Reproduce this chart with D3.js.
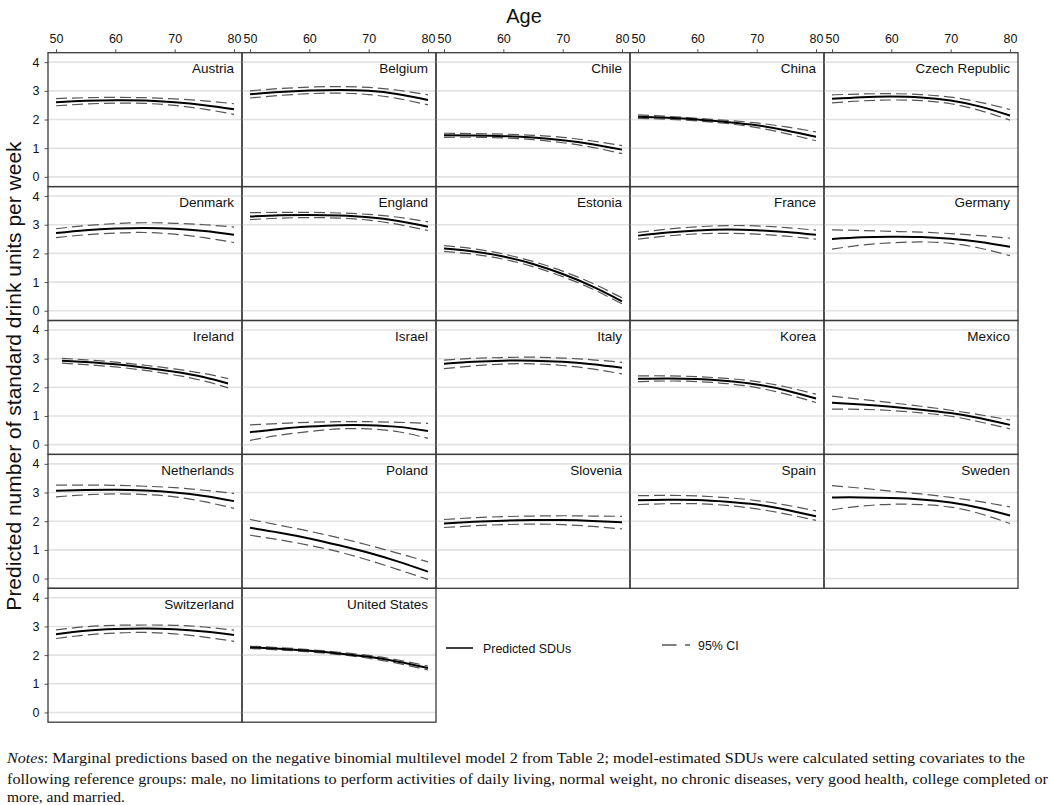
<!DOCTYPE html>
<html>
<head>
<meta charset="utf-8">
<script src="https://cdn.jsdelivr.net/npm/d3@7"></script>
<style>
  html, body { margin: 0; padding: 0; background: #fff; }
  svg { display: block; }
</style>
</head>
<body>
<svg id="chart" width="1050" height="805"></svg>
<script>
// ---------------- DATA ----------------
const countries = ["Austria","Belgium","Chile","China","Czech Republic",
  "Denmark","England","Estonia","France","Germany",
  "Ireland","Israel","Italy","Korea","Mexico",
  "Netherlands","Poland","Slovenia","Spain","Sweden",
  "Switzerland","United States"];

const ages = [50, 55, 60, 65, 70, 75, 80];
const irelandAges = [51, 55, 60, 65, 70, 75, 79];
const countryAges = { "Ireland": irelandAges };

const xTicks = [50, 60, 70, 80];
const yTicks = [0, 1, 2, 3, 4];

const predicted = [
  [2.60, 2.65, 2.67, 2.66, 2.60, 2.50, 2.36], // Austria
  [2.88, 2.96, 3.01, 3.03, 3.00, 2.88, 2.68], // Belgium
  [1.45, 1.44, 1.42, 1.37, 1.28, 1.14, 0.95], // Chile
  [2.10, 2.06, 2.00, 1.91, 1.80, 1.62, 1.40], // China
  [2.72, 2.78, 2.80, 2.77, 2.66, 2.45, 2.14], // Czech Republic
  [2.71, 2.81, 2.87, 2.89, 2.86, 2.78, 2.65], // Denmark
  [3.29, 3.33, 3.34, 3.32, 3.26, 3.13, 2.93], // England
  [2.17, 2.07, 1.89, 1.63, 1.28, 0.85, 0.33], // Estonia
  [2.62, 2.73, 2.80, 2.83, 2.81, 2.75, 2.65], // France
  [2.50, 2.56, 2.58, 2.57, 2.51, 2.40, 2.23], // Germany
  [2.93, 2.88, 2.80, 2.68, 2.54, 2.35, 2.13], // Ireland
  [0.43, 0.55, 0.63, 0.68, 0.68, 0.62, 0.48], // Israel
  [2.82, 2.89, 2.93, 2.93, 2.89, 2.80, 2.68], // Italy
  [2.30, 2.31, 2.29, 2.22, 2.10, 1.89, 1.61], // Korea
  [1.46, 1.40, 1.32, 1.22, 1.10, 0.92, 0.69], // Mexico
  [3.06, 3.09, 3.10, 3.07, 3.00, 2.88, 2.70], // Netherlands
  [1.77, 1.60, 1.40, 1.16, 0.90, 0.59, 0.24], // Poland
  [1.92, 1.98, 2.02, 2.04, 2.04, 2.01, 1.96], // Slovenia
  [2.73, 2.75, 2.74, 2.68, 2.58, 2.40, 2.17], // Spain
  [2.83, 2.83, 2.81, 2.76, 2.65, 2.46, 2.20], // Sweden
  [2.73, 2.85, 2.91, 2.93, 2.90, 2.82, 2.70], // Switzerland
  [2.27, 2.22, 2.15, 2.06, 1.94, 1.77, 1.55]  // United States
];

const ciUpper = [
  [2.73, 2.76, 2.77, 2.76, 2.72, 2.65, 2.55],
  [3.00, 3.08, 3.13, 3.15, 3.12, 3.02, 2.86],
  [1.52, 1.51, 1.49, 1.45, 1.38, 1.25, 1.09],
  [2.16, 2.11, 2.04, 1.97, 1.88, 1.74, 1.57],
  [2.86, 2.89, 2.90, 2.87, 2.78, 2.60, 2.35],
  [2.86, 2.97, 3.04, 3.07, 3.05, 3.00, 2.92],
  [3.42, 3.43, 3.43, 3.41, 3.36, 3.26, 3.10],
  [2.27, 2.16, 1.98, 1.72, 1.38, 0.96, 0.45],
  [2.73, 2.85, 2.93, 2.97, 2.96, 2.90, 2.81],
  [2.82, 2.80, 2.77, 2.74, 2.69, 2.62, 2.53],
  [3.01, 2.96, 2.88, 2.77, 2.64, 2.48, 2.30],
  [0.69, 0.74, 0.78, 0.80, 0.80, 0.78, 0.74],
  [2.95, 3.01, 3.04, 3.05, 3.02, 2.96, 2.87],
  [2.40, 2.40, 2.37, 2.31, 2.20, 2.01, 1.76],
  [1.69, 1.58, 1.46, 1.34, 1.20, 1.04, 0.86],
  [3.26, 3.26, 3.25, 3.22, 3.17, 3.08, 2.97],
  [2.06, 1.86, 1.65, 1.42, 1.16, 0.88, 0.58],
  [2.06, 2.12, 2.16, 2.18, 2.19, 2.18, 2.17],
  [2.89, 2.90, 2.88, 2.82, 2.72, 2.56, 2.36],
  [3.24, 3.15, 3.05, 2.95, 2.83, 2.68, 2.50],
  [2.88, 2.99, 3.04, 3.05, 3.04, 2.98, 2.87],
  [2.31, 2.26, 2.19, 2.10, 1.99, 1.83, 1.62]
];

const ciLower = [
  [2.48, 2.54, 2.57, 2.56, 2.49, 2.36, 2.18],
  [2.75, 2.84, 2.90, 2.92, 2.87, 2.73, 2.51],
  [1.38, 1.38, 1.36, 1.30, 1.19, 1.03, 0.81],
  [2.04, 2.01, 1.95, 1.86, 1.72, 1.51, 1.26],
  [2.58, 2.65, 2.68, 2.66, 2.55, 2.31, 1.98],
  [2.55, 2.65, 2.71, 2.73, 2.67, 2.55, 2.38],
  [3.18, 3.23, 3.25, 3.23, 3.16, 3.01, 2.80],
  [2.07, 1.97, 1.80, 1.54, 1.19, 0.76, 0.24],
  [2.50, 2.61, 2.68, 2.70, 2.67, 2.60, 2.50],
  [2.15, 2.29, 2.37, 2.40, 2.35, 2.18, 1.92],
  [2.84, 2.79, 2.71, 2.59, 2.43, 2.22, 1.98],
  [0.15, 0.33, 0.46, 0.55, 0.55, 0.45, 0.22],
  [2.65, 2.75, 2.81, 2.82, 2.76, 2.64, 2.47],
  [2.20, 2.22, 2.20, 2.13, 1.99, 1.76, 1.47],
  [1.24, 1.23, 1.19, 1.11, 0.99, 0.79, 0.55],
  [2.85, 2.92, 2.95, 2.93, 2.85, 2.68, 2.45],
  [1.51, 1.35, 1.16, 0.93, 0.64, 0.31, -0.03],
  [1.78, 1.84, 1.88, 1.90, 1.88, 1.82, 1.73],
  [2.58, 2.61, 2.61, 2.55, 2.43, 2.25, 2.03],
  [2.40, 2.53, 2.59, 2.58, 2.49, 2.26, 1.92],
  [2.58, 2.70, 2.77, 2.79, 2.74, 2.63, 2.48],
  [2.23, 2.18, 2.11, 2.02, 1.89, 1.71, 1.48]
];

const legendLabels = ["Predicted SDUs", "95% CI"];
const xTitle = "Age";
const yTitle = "Predicted number of standard drink units per week";
const noteLines = [
  ": Marginal predictions based on the negative binomial multilevel model 2 from Table 2; model-estimated SDUs were calculated setting covariates to the",
  "following reference groups: male, no limitations to perform activities of daily living, normal weight, no chronic diseases, very good health, college completed or",
  "more, and married."
];

// ---------------- LAYOUT ----------------
const svg = d3.select("#chart");
const left = 48, colW = 194, nCols = 5;
const top0 = 52.7, rowH = 133.9;
const xPad = 8;
const font = "'Liberation Sans', Arial, Helvetica, sans-serif";

const lineGen = d3.line().curve(d3.curveNatural);

countries.forEach((name, i) => {
  const r = Math.floor(i / nCols), c = i % nCols;
  const x0 = left + c * colW, y0 = top0 + r * rowH;
  const x = d3.scaleLinear().domain([50, 80]).range([x0 + xPad, x0 + colW - xPad]);
  const y = d3.scaleLinear().domain([-0.34, 4.33]).range([y0 + rowH, y0]);
  const g = svg.append("g");

  // gridlines
  g.selectAll("line.grid").data(yTicks).join("line")
    .attr("x1", x0).attr("x2", x0 + colW)
    .attr("y1", d => y(d)).attr("y2", d => y(d))
    .attr("stroke", "#e2e2e2").attr("stroke-width", 1.6);

  // left axis on first column
  if (c === 0) {
    const ax = g.append("g").attr("transform", `translate(${x0},0)`)
      .call(d3.axisLeft(y).tickValues(yTicks).tickSize(3.5).tickPadding(5).tickFormat(d3.format("d")));
    ax.select(".domain").remove();
    ax.selectAll(".tick line").attr("stroke", "#555");
    ax.selectAll("text").attr("font-family", font).attr("font-size", 12.5).attr("fill", "#111");
  }
  // top axis on first row
  if (r === 0) {
    const ax = g.append("g").attr("transform", `translate(0,${y0})`)
      .call(d3.axisTop(x).tickValues(xTicks).tickSize(3.5).tickPadding(6).tickFormat(d3.format("d")));
    ax.select(".domain").remove();
    ax.selectAll(".tick line").attr("stroke", "#555");
    ax.selectAll("text").attr("font-family", font).attr("font-size", 12.5).attr("fill", "#111");
  }

  const a = countryAges[name] || ages;
  const toPts = vals => vals.map((v, k) => [x(a[k]), y(v)]);

  // CI lines
  [ciUpper[i], ciLower[i]].forEach(vals => {
    g.append("path").attr("d", lineGen(toPts(vals)))
      .attr("fill", "none").attr("stroke", "#555").attr("stroke-width", 1.2)
      .attr("stroke-dasharray", "11,5");
  });
  // predicted
  g.append("path").attr("d", lineGen(toPts(predicted[i])))
    .attr("fill", "none").attr("stroke", "#000").attr("stroke-width", 2);

  // panel title
  g.append("text").attr("x", x0 + colW - xPad).attr("y", y0 + 20.5)
    .attr("text-anchor", "end").attr("font-family", font).attr("font-size", 13.5)
    .attr("fill", "#111").text(name);

  // border
  g.append("rect").attr("x", x0).attr("y", y0).attr("width", colW).attr("height", rowH)
    .attr("fill", "none").attr("stroke", "#3a3a3a").attr("stroke-width", 1.3);
});

// axis titles
svg.append("text").attr("x", 524).attr("y", 23).attr("text-anchor", "middle")
  .attr("font-family", font).attr("font-size", 20).attr("fill", "#111").text(xTitle);
svg.append("text").attr("transform", "translate(21,376) rotate(-90)")
  .attr("text-anchor", "middle").attr("font-family", font).attr("font-size", 21)
  .attr("fill", "#111").text(yTitle);

// legend
const lg = svg.append("g");
lg.append("line").attr("x1", 446).attr("x2", 473).attr("y1", 648).attr("y2", 648)
  .attr("stroke", "#000").attr("stroke-width", 1.5);
lg.append("text").attr("x", 483).attr("y", 652.5).attr("font-family", font)
  .attr("font-size", 12.4).attr("fill", "#111").text(legendLabels[0]);
lg.append("line").attr("x1", 662).attr("x2", 690).attr("y1", 645).attr("y2", 645)
  .attr("stroke", "#555").attr("stroke-width", 1.3).attr("stroke-dasharray", "14.6,8.5");
lg.append("text").attr("x", 698).attr("y", 649.5).attr("font-family", font)
  .attr("font-size", 12.4).attr("fill", "#111").text(legendLabels[1]);

// notes
const serif = "'Liberation Serif', 'Times New Roman', serif";
const nb = [763, 783.5, 802];
const nWidths = [1018, 1041, null];
noteLines.forEach((t, k) => {
  const tx = svg.append("text").attr("x", 7).attr("y", nb[k])
    .attr("font-family", serif).attr("font-size", 15.5).attr("fill", "#111");
  if (nWidths[k]) tx.attr("textLength", nWidths[k]).attr("lengthAdjust", "spacingAndGlyphs");
  if (k === 0) {
    tx.append("tspan").attr("font-style", "italic").text("Notes");
    tx.append("tspan").text(t);
  } else {
    tx.text(t);
  }
});
</script>
</body>
</html>
